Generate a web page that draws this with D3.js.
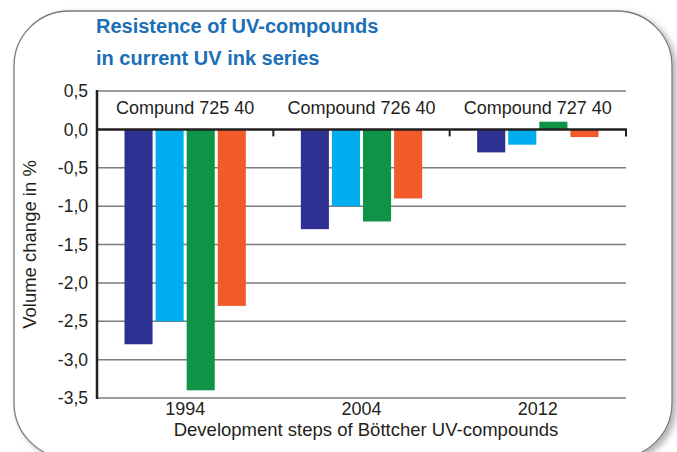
<!DOCTYPE html>
<html>
<head>
<meta charset="utf-8">
<script src="https://cdn.jsdelivr.net/npm/d3@7"></script>
<style>
  html, body { margin: 0; padding: 0; background: #fff; }
  text { font-family: "Liberation Sans", Arial, sans-serif; }
</style>
</head>
<body>
<div id="chart"></div>
<script>
// data
var years = ["1994", "2004", "2012"];
var compounds = ["Compund 725 40", "Compound 726 40", "Compound 727 40"];
var series = ["s1", "s2", "s3", "s4"];
var colors = ["#2e3192", "#00aeef", "#0f9347", "#f15a29"];
var values = [
  [-2.8, -2.5, -3.4, -2.3],
  [-1.3, -1.0, -1.2, -0.9],
  [-0.3, -0.2, 0.1, -0.1]
];
var yTicks = [0.5, 0, -0.5, -1, -1.5, -2, -2.5, -3, -3.5];

var W = 677, H = 452;
var pLeft = 97, pRight = 626, pTop = 91, pBottom = 398;

var svg = d3.select("#chart").append("svg")
  .attr("width", W).attr("height", H);

// shadow for the frame
var defs = svg.append("defs");
var f = defs.append("filter").attr("id", "shadow")
  .attr("x", "-5%").attr("y", "-5%").attr("width", "115%").attr("height", "115%");
f.append("feDropShadow").attr("dx", 4).attr("dy", 3).attr("stdDeviation", 3)
  .attr("flood-color", "#000").attr("flood-opacity", 0.3);

svg.append("rect")
  .attr("x", 14).attr("y", 11).attr("width", 658).attr("height", 447)
  .attr("rx", 55).attr("ry", 55)
  .attr("fill", "#fff").attr("stroke", "#7a7a7a").attr("stroke-width", 1.3)
  .attr("filter", "url(#shadow)");

// title
var title = svg.append("text")
  .attr("fill", "#1b6fb6")
  .style("font-size", "20px").style("font-weight", "bold");
title.append("tspan").attr("x", 96).attr("y", 33).text("Resistence of UV-compounds");
title.append("tspan").attr("x", 96).attr("y", 65).text("in current UV ink series");

var x0 = d3.scaleBand().domain(years).range([pLeft, pRight]);
var x1 = d3.scaleBand().domain(series).range([27.5, x0.bandwidth() - 27.5]).paddingInner(0.097);
var y = d3.scaleLinear().domain([-3.5, 0.5]).range([pBottom, pTop]);
var color = d3.scaleOrdinal().domain(series).range(colors);

// gridlines
svg.append("g").selectAll("line")
  .data(yTicks.filter(function(d){ return d !== 0; }))
  .enter().append("line")
  .attr("x1", pLeft).attr("x2", pRight)
  .attr("y1", function(d){ return y(d); })
  .attr("y2", function(d){ return y(d); })
  .attr("stroke", "#7d7d7d").attr("stroke-width", 1.5);

// y tick labels
svg.append("g").selectAll("text")
  .data(yTicks)
  .enter().append("text")
  .attr("x", 88)
  .attr("y", function(d){ return y(d); })
  .attr("dy", "0.35em")
  .attr("text-anchor", "end")
  .attr("fill", "#231f20")
  .style("font-size", "17.5px")
  .text(function(d){ return d3.format(".1f")(d).replace(".", ",").replace("−", "-"); });

// bars
var groups = svg.append("g").selectAll("g")
  .data(values)
  .enter().append("g")
  .attr("transform", function(d, i){ return "translate(" + x0(years[i]) + ",0)"; });

groups.selectAll("rect")
  .data(function(d){ return d.map(function(v, j){ return {key: series[j], value: v}; }); })
  .enter().append("rect")
  .attr("x", function(d){ return x1(d.key); })
  .attr("width", x1.bandwidth())
  .attr("y", function(d){ return y(Math.max(0, d.value)); })
  .attr("height", function(d){ return Math.abs(y(d.value) - y(0)); })
  .attr("fill", function(d){ return color(d.key); });

// zero line with small ticks
svg.append("line")
  .attr("x1", pLeft).attr("x2", pRight + 1)
  .attr("y1", y(0)).attr("y2", y(0))
  .attr("stroke", "#231f20").attr("stroke-width", 2.5);
svg.append("g").selectAll("line")
  .data(years)
  .enter().append("line")
  .attr("x1", function(d){ return x0(d) + x0.bandwidth(); })
  .attr("x2", function(d){ return x0(d) + x0.bandwidth(); })
  .attr("y1", y(0)).attr("y2", y(0) + 7)
  .attr("stroke", "#231f20").attr("stroke-width", 2);

// left axis
svg.append("line")
  .attr("x1", pLeft).attr("x2", pLeft)
  .attr("y1", pTop - 1).attr("y2", pBottom + 1)
  .attr("stroke", "#231f20").attr("stroke-width", 2.5);

// compound labels
svg.append("g").selectAll("text")
  .data(compounds)
  .enter().append("text")
  .attr("x", function(d, i){ return x0(years[i]) + x0.bandwidth() / 2; })
  .attr("y", 114)
  .attr("text-anchor", "middle")
  .attr("fill", "#231f20")
  .style("font-size", "18px")
  .text(function(d){ return d; });

// x labels
svg.append("g").selectAll("text")
  .data(years)
  .enter().append("text")
  .attr("x", function(d){ return x0(d) + x0.bandwidth() / 2; })
  .attr("y", 415)
  .attr("text-anchor", "middle")
  .attr("fill", "#231f20")
  .style("font-size", "18px")
  .text(function(d){ return d; });

svg.append("text")
  .attr("x", 366).attr("y", 436)
  .attr("text-anchor", "middle")
  .attr("fill", "#231f20")
  .style("font-size", "18.5px")
  .text("Development steps of Böttcher UV-compounds");

svg.append("text")
  .attr("transform", "translate(36," + ((pTop + pBottom) / 2) + ") rotate(-90)")
  .attr("text-anchor", "middle")
  .attr("fill", "#231f20")
  .style("font-size", "18.5px")
  .text("Volume change in %");
</script>
</body>
</html>
